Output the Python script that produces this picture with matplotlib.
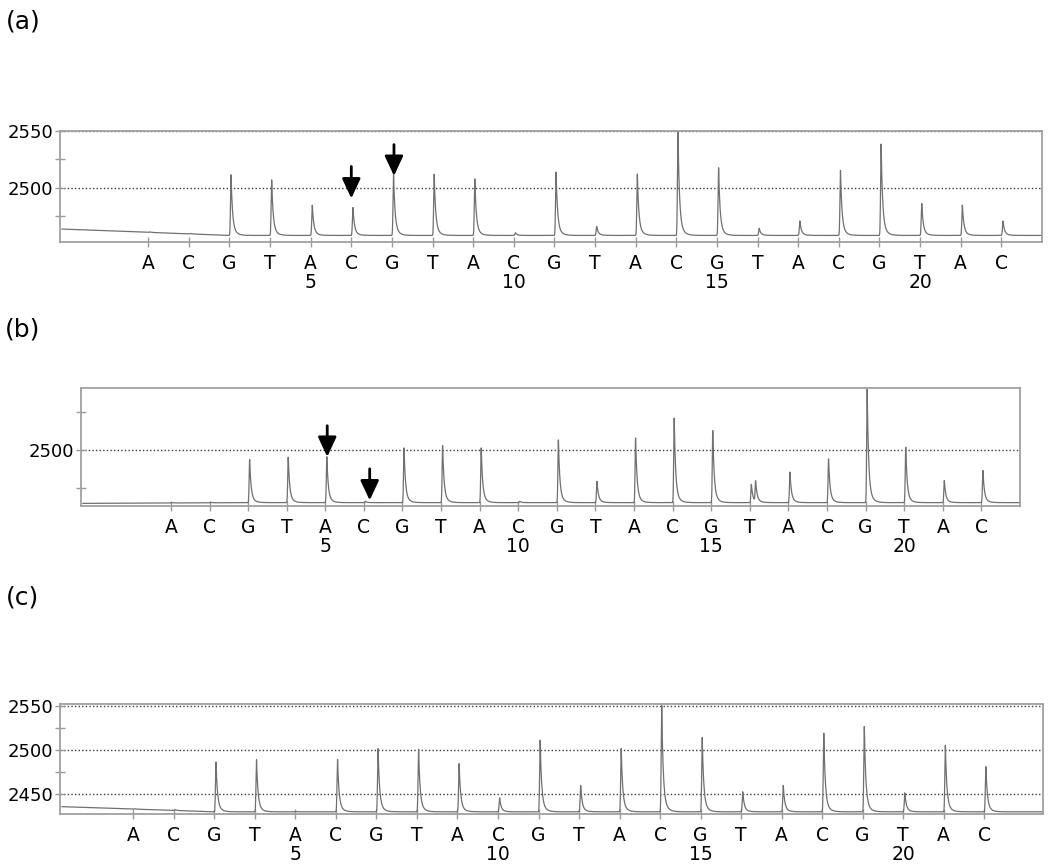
import numpy as np
import matplotlib
matplotlib.use("Agg")
import matplotlib.pyplot as plt

# dispensation order, same for all three pyrograms
dispensation = list("ACGTACGTACGTACGTACGTAC")
positions = list(range(1, len(dispensation) + 1))
numbered = [5, 10, 15, 20]

# peak tops (signal units), one per dispensation
tops_a = [2458.3, 2458.3, 2511.3, 2506.8, 2484.5, 2482.4, 2512.2, 2511.9, 2507.7, 2460.2, 2513.7,
          2465.8, 2511.9, 2549.4, 2517.5, 2464.0, 2470.6, 2515.2, 2538.4, 2486.0, 2484.5, 2470.6]
tops_b = [2466.0, 2466.0, 2493.9, 2495.4, 2495.7, 2466.5, 2501.5, 2503.0, 2501.5, 2466.5, 2506.7,
          2479.6, 2508.0, 2521.0, 2512.8, 2477.6, 2485.7, 2494.3, 2540.0, 2502.0, 2480.2, 2486.7]
tops_c = [2429.5, 2430.0, 2486.2, 2488.8, 2429.3, 2489.2, 2501.5, 2500.8, 2484.2, 2445.0, 2511.2,
          2459.2, 2501.5, 2550.8, 2514.2, 2452.0, 2459.2, 2519.2, 2526.9, 2450.8, 2505.4, 2480.8]

# shoulder peak on T16 in run (b)
extra_b = [(16.15, 2479.1)]

# baseline level and level at the left edge of each trace
baseline_a, start_a = 2457.8, 2463.5
baseline_b, start_b = 2465.7, 2465.2
baseline_c, start_c = 2429.0, 2435.0

# arrows: x, tail, tip
arrows_a = [(6.0, 2518.7, 2490.5), (7.05, 2538.0, 2510.4)]
arrows_b = [(5.05, 2516.0, 2495.7), (6.15, 2487.8, 2467.2)]

W, H = 1050, 867
fig = plt.figure(figsize=(W / 100, H / 100), dpi=100)


def box(left, right, top, bottom):
    return [left / W, 1 - bottom / H, (right - left) / W, (bottom - top) / H]


def trace(xlim, tops, baseline, start, extra=()):
    x = np.arange(xlim[0] + 0.05, xlim[1] - 0.02, 0.004)
    frac = np.clip((3.0 - x) / (3.0 - xlim[0]), 0, 1)
    y = baseline + (start - baseline) * frac
    peaks = list(zip([p + 0.04 for p in positions], tops)) + list(extra)
    for px, top in peaks:
        h = top - baseline
        t = x - px
        shape = np.where(t < 0, np.exp(-(t / 0.018) ** 2),
                         0.82 * np.exp(-t / 0.035) + 0.18 * np.exp(-t / 0.09))
        y = y + h * shape
    return x, y


def panel(rect, xlim, ylim, major, minor, tops, baseline, start, extra=(), arrows=()):
    ax = fig.add_axes(rect)
    x, y = trace(xlim, tops, baseline, start, extra)
    ax.plot(x, y, color="#707070", lw=0.9)
    ax.set_xlim(*xlim)
    ax.set_ylim(*ylim)

    labels = [f"{b}\n{p}" if p in numbered else b for b, p in zip(dispensation, positions)]
    ax.set_xticks(positions)
    ax.set_xticklabels(labels, fontsize=13.5, linespacing=1.0)
    ax.set_yticks(major)
    ax.set_yticklabels([str(v) for v in major], fontsize=13)
    ax.set_yticks(minor, minor=True)
    ax.tick_params(axis="both", which="both", direction="inout", length=7,
                   color="#9a9a9a", width=1.0)
    ax.tick_params(axis="x", pad=5)
    ax.tick_params(axis="y", pad=1.5)

    ax.yaxis.grid(True, which="major", ls=(0, (1, 1.6)), color="#3a3a3a", lw=1.0)
    ax.set_axisbelow(True)
    for s in ax.spines.values():
        s.set_color("#a0a0a0")
        s.set_linewidth(1.3)

    for ax_x, tail, tip in arrows:
        ax.annotate("", xy=(ax_x, tip), xytext=(ax_x, tail),
                    arrowprops=dict(arrowstyle="-|>,head_length=0.6,head_width=0.28",
                                    mutation_scale=20, lw=2, color="black",
                                    shrinkA=0, shrinkB=0))
    return ax


panel(box(60, 1042, 131, 242), (-1.17, 23.0), (2452, 2550), [2500, 2550], [2475, 2525],
      tops_a, baseline_a, start_a, arrows=arrows_a)
panel(box(81, 1020, 388, 506), (-1.33, 23.0), (2463.5, 2540.7), [2500], [2475, 2525],
      tops_b, baseline_b, start_b, extra=extra_b, arrows=arrows_b)
panel(box(60, 1043, 704, 814), (-0.81, 23.45), (2426.5, 2552.7), [2450, 2500, 2550], [2475, 2525],
      tops_c, baseline_c, start_c)

for lab, yy in [("(a)", 21), ("(b)", 329), ("(c)", 598)]:
    fig.text(23 / W, 1 - yy / H, lab, fontsize=18, ha="center", va="center")

fig.savefig("out.png", dpi=100)
